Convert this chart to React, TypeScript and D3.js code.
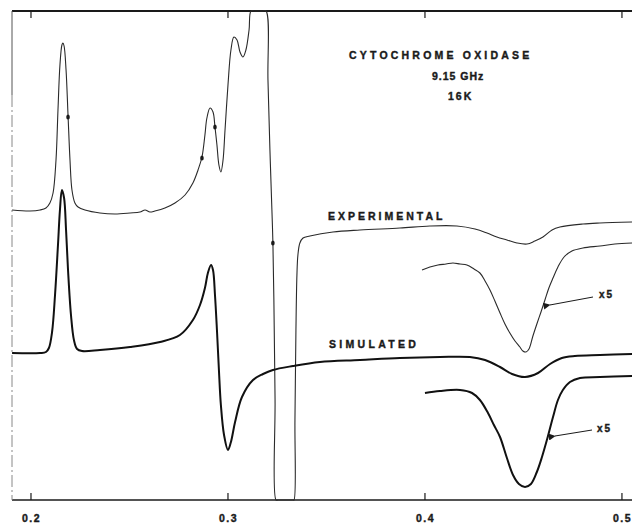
import React from "react";
import * as d3 from "d3";

// Magnetic field in mT, intensity in arbitrary units (recorder deflection)
const experimental: [number, number][] = [
  [190.4, 290], [199.5, 289], [204.6, 290], [207.6, 292], [209.6, 297], [211.2, 307],
  [212.7, 340], [213.7, 390], [214.7, 435], [215.7, 455], [216.2, 457], [216.8, 454],
  [217.8, 430], [218.8, 385], [219.8, 340], [220.8, 310], [222.3, 297], [223.9, 293],
  [227.4, 290], [235.0, 287], [242.6, 286], [250.3, 287], [255.3, 288], [257.9, 290],
  [260.4, 288], [262.9, 289], [268.0, 292], [273.1, 297], [278.2, 305], [282.2, 317],
  [284.8, 330], [286.8, 343], [288.3, 365], [289.3, 382], [290.9, 392], [292.4, 388],
  [293.4, 373], [294.4, 355], [295.4, 335], [296.4, 328], [297.5, 340], [298.5, 370],
  [300.0, 415], [301.5, 450], [303.0, 463], [304.6, 460], [306.1, 448], [307.6, 443],
  [309.1, 450], [310.7, 470], [311.7, 489], [313.7, 540], [317.3, 540], [319.3, 489],
  [320.3, 420], [321.3, 350], [322.3, 290], [322.8, 258], [323.3, 200], [323.9, 100],
  [324.4, 0], [325.4, -60], [328.9, -80], [333.0, -60], [333.5, 0], [334.0, 80],
  [334.5, 170], [335.0, 225], [335.5, 245], [336.5, 257], [338.1, 262], [341.6, 264],
  [353.3, 268], [367.0, 270], [387.3, 272], [402.5, 274], [416.2, 274], [425.4, 271],
  [431.5, 267], [436.5, 263], [441.6, 260], [446.7, 257], [451.8, 256], [455.8, 259],
  [459.9, 263], [464.5, 270], [468.5, 273], [480.2, 276], [488.8, 277], [505.1, 278],
];

const experimentalX5: [number, number][] = [
  [398.5, 230], [402.5, 233], [406.6, 235], [410.7, 236], [414.2, 237], [417.8, 236],
  [421.3, 235], [424.9, 231], [427.9, 227], [430.5, 219], [433.0, 210], [435.5, 199],
  [438.1, 187], [440.6, 176], [443.1, 167], [445.7, 159], [448.2, 153], [449.7, 149],
  [451.3, 148], [452.8, 151], [454.8, 164], [456.8, 176], [458.9, 188], [460.9, 200],
  [462.9, 212], [465.0, 222], [467.5, 233], [470.6, 243], [474.6, 249], [480.2, 252],
  [488.8, 254], [496.4, 256], [505.1, 257],
];

const simulated: [number, number][] = [
  [190.4, 147], [204.6, 147], [207.6, 148], [209.1, 152], [210.7, 168], [212.2, 205],
  [213.7, 255], [214.7, 290], [215.7, 310], [216.8, 302], [217.8, 270], [218.8, 230],
  [220.3, 185], [221.8, 160], [223.4, 151], [225.9, 149], [235.0, 150], [250.3, 153],
  [265.5, 158], [275.6, 165], [282.2, 180], [285.8, 195], [288.3, 212], [289.8, 227],
  [291.4, 235], [292.4, 230], [293.4, 205], [294.4, 170], [295.4, 130], [296.4, 95],
  [298.0, 65], [300.0, 50], [301.5, 58], [303.6, 78], [307.1, 103], [312.7, 120],
  [317.8, 126], [322.8, 130], [333.0, 134], [346.7, 138], [367.0, 140], [387.3, 142],
  [407.6, 143], [422.8, 143], [430.5, 140], [438.1, 133], [444.2, 126], [450.8, 123],
  [457.4, 127], [463.5, 136], [469.5, 142], [476.1, 144], [488.8, 145], [505.1, 146],
];

const simulatedX5: [number, number][] = [
  [400.0, 107], [407.6, 109], [417.8, 110], [423.9, 107], [427.9, 100], [432.0, 87],
  [435.0, 75], [438.1, 63], [441.6, 42], [444.7, 25], [447.7, 16], [450.8, 13],
  [453.8, 16], [456.8, 28], [459.4, 43], [461.9, 60], [465.0, 83], [467.5, 100],
  [470.0, 110], [473.6, 118], [478.7, 122], [488.8, 123], [505.1, 124],
];

const gMarkers: [number, number][] = [[218.8, 383], [286.8, 342], [293.4, 373], [322.8, 257]];

const tickValues = [200, 300, 400, 500];
const tickLabels = ["0.2", "0.3", "0.4", "0.5"];

const titleLines = ["CYTOCHROME OXIDASE", "9.15 GHz", "16K"];

export default function App() {
  const left = 12, right = 632, top = 11, bottom = 500;
  const x = d3.scaleLinear().domain([190.36, 505.1]).range([left, right]);
  const y = d3.scaleLinear().domain([0, 489]).range([bottom, top]).clamp(true);
  const line = d3
    .line<[number, number]>()
    .x((d) => x(d[0]))
    .y((d) => y(d[1]))
    .curve(d3.curveCatmullRom.alpha(0.5));

  const font = "'Liberation Sans', Arial, sans-serif";
  const ink = "#1a1a1a";
  const textProps = {
    fontFamily: font,
    fontWeight: "bold" as const,
    fill: ink,
    stroke: ink,
    strokeWidth: 0.4,
  };

  return (
    <svg
      width={632}
      height={523}
      style={{ position: "absolute", left: 0, top: 0, background: "#fff" }}
    >
      <defs>
        <clipPath id="plot">
          <rect x={left} y={top - 1} width={right - left} height={bottom - top + 2} />
        </clipPath>
        <marker id="ah" viewBox="0 0 10 10" refX="1" refY="5" markerWidth="9" markerHeight="7" markerUnits="userSpaceOnUse" orient="auto">
          <path d="M10,0 L0,5 L10,10 Z" fill={ink} />
        </marker>
      </defs>

      {/* frame */}
      <line x1={left} x2={right} y1={top} y2={top} stroke={ink} strokeWidth={1.8} />
      <line x1={left} x2={right} y1={bottom} y2={bottom} stroke={ink} strokeWidth={1.5} />
      <line x1={left} x2={left} y1={top} y2={95} stroke="#555" strokeWidth={1} />
      <line x1={left} x2={left} y1={95} y2={bottom} stroke="#888" strokeWidth={1} strokeDasharray="12 3 2 3" />

      {tickValues.map((t, i) => (
        <g key={t}>
          <line x1={x(t)} x2={x(t)} y1={top} y2={top + 7} stroke={ink} strokeWidth={1.2} />
          <line x1={x(t)} x2={x(t)} y1={bottom} y2={bottom - 7} stroke={ink} strokeWidth={1.2} />
          <text x={x(t) - 9} y={522} fontSize={10.5} letterSpacing={1.5} {...textProps}>
            {tickLabels[i]}
          </text>
        </g>
      ))}

      <g clipPath="url(#plot)" fill="none">
        <path d={line(experimental) || ""} stroke="#2a2a2a" strokeWidth={1.1} />
        <path d={line(experimentalX5) || ""} stroke="#2a2a2a" strokeWidth={1.1} />
        <path d={line(simulated) || ""} stroke="#111" strokeWidth={2} />
        <path d={line(simulatedX5) || ""} stroke="#111" strokeWidth={2} />
      </g>

      {gMarkers.map((m, i) => (
        <ellipse key={i} cx={x(m[0])} cy={y(m[1])} rx={1.8} ry={2.6} fill={ink} />
      ))}

      {/* title */}
      <text x={349} y={59} fontSize={10.5} letterSpacing={3.2} {...textProps}>
        {titleLines[0]}
      </text>
      <text x={432} y={80} fontSize={10.5} letterSpacing={1} {...textProps}>
        {titleLines[1]}
      </text>
      <text x={448} y={100} fontSize={10.5} letterSpacing={2} {...textProps}>
        {titleLines[2]}
      </text>

      <text x={328} y={220} fontSize={10.5} letterSpacing={3} {...textProps}>
        EXPERIMENTAL
      </text>
      <text x={329} y={348} fontSize={10.5} letterSpacing={3.3} {...textProps}>
        SIMULATED
      </text>

      {/* x5 annotations */}
      <line x1={x(485.3)} y1={y(203)} x2={x(463.4)} y2={y(195)} stroke={ink} strokeWidth={1} markerEnd="url(#ah)" />
      <text x={599} y={298} fontSize={10} letterSpacing={2} {...textProps}>
        x5
      </text>
      <line x1={x(484.8)} y1={y(70)} x2={x(466)} y2={y(64)} stroke={ink} strokeWidth={1} markerEnd="url(#ah)" />
      <text x={597} y={432} fontSize={10} letterSpacing={2} {...textProps}>
        x5
      </text>
    </svg>
  );
}
